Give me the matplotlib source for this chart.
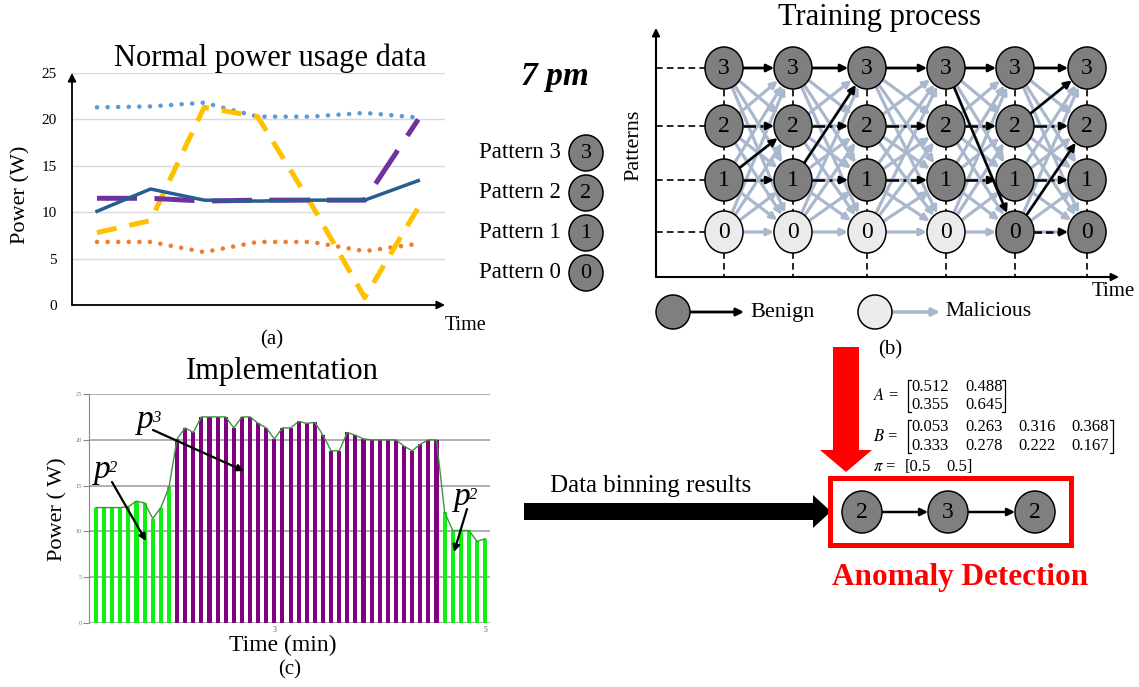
import numpy as np
import matplotlib.pyplot as plt
from matplotlib.patches import Ellipse, Polygon, Rectangle

plt.rcParams['font.family'] = ['Liberation Serif', 'DejaVu Serif']
plt.rcParams['mathtext.fontset'] = 'stix'

W, H = 1139, 687

# (a) normal power usage data, 7 time slots
slots_a = [0, 1, 2, 3, 4, 5, 6]
light_blue = [21.3, 21.4, 21.8, 20.3, 20.3, 20.7, 20.2]
orange = [6.8, 6.8, 5.7, 6.8, 6.8, 5.8, 6.6]
yellow = [7.8, 9.1, 21.3, 20.3, 10.9, 0.8, 10.5]
purple = [11.5, 11.5, 11.2, 11.3, 11.3, 11.3, 20.0]
dark_blue = [10.1, 12.5, 11.3, 11.2, 11.3, 11.3, 13.4]

# (c) implementation: power per sample and binned pattern
power_c = [12.6, 12.6, 12.6, 12.6, 12.7, 13.3, 13.1, 11.4, 12.6, 14.8,
           20.1, 21.3, 20.8, 22.5, 22.5, 22.5, 22.5, 21.3, 22.5, 22.5,
           21.8, 21.3, 20.1, 21.3, 21.3, 22.0, 21.8, 21.9, 20.5, 18.8,
           18.8, 20.8, 20.5, 20.1, 20.0, 20.0, 20.0, 20.0, 19.3, 18.8,
           19.5, 20.0, 20.0,
           12.1, 10.1, 10.1, 10.1, 8.9, 9.2]
pattern_c = [2] * 10 + [3] * 33 + [2] * 6
xtick_pos_c = [22, 48]
xtick_lab_c = ['3', '5']

# (b) training process
patterns = [3, 2, 1, 0]
n_steps = 6
light_nodes = [(0, 0), (1, 0), (2, 0), (3, 0)]
benign_paths = [((0, 3), (1, 3), '-'), ((1, 3), (2, 3), '-'), ((2, 3), (3, 3), '-'),
                ((3, 3), (4, 3), '-'), ((4, 3), (5, 3), '-'),
                ((0, 1), (1, 2), '-'), ((1, 1), (2, 3), '-'), ((3, 3), (4, 0), '-'),
                ((4, 2), (5, 3), '-'), ((4, 0), (5, 2), '-'), ((4, 0), (5, 0), '--')]
for c in range(5):
    for r in (2, 1):
        benign_paths.append(((c, r), (c + 1, r), '-.'))

detected = [2, 3, 2]
A = [['0.512', '0.488'], ['0.355', '0.645']]
B = [['0.053', '0.263', '0.316', '0.368'], ['0.333', '0.278', '0.222', '0.167']]
PI = ['0.5', '0.5']

DARK = '#7f7f7f'
LIGHT = '#ebebeb'
GRAY = '#a9b8cc'

fig = plt.figure(figsize=(W / 100, H / 100), dpi=100)


def box(l, t, r, b):
    return [l / W, 1 - b / H, (r - l) / W, (b - t) / H]


# ---------- (a) ----------
ax = fig.add_axes(box(72, 73, 445, 305))
ax.set_xlim(-0.467, 6.5)
ax.set_ylim(0, 25)
for s in ax.spines.values():
    s.set_visible(False)
ax.set_yticks([0, 5, 10, 15, 20, 25])
ax.set_xticks([])
ax.tick_params(axis='y', length=0, labelsize=11, pad=11)
ax.grid(axis='y', color='#d9d9d9', lw=1)
ax.set_axisbelow(True)
ax.plot(slots_a, orange, color='#ed7d31', lw=3.3, ls=(0, (0.01, 2.3)), dash_capstyle='round')
ax.plot(slots_a, light_blue, color='#5b9bd5', lw=3.3, ls=(0, (0.01, 2.3)), dash_capstyle='round')
ax.plot(slots_a, yellow, color='#ffc000', lw=3.6, dashes=(4, 2.6))
ax.plot(slots_a, purple, color='#7030a0', lw=3.6, dashes=(8, 3.5))
ax.plot(slots_a, dark_blue, color='#255e91', lw=2.5)
arr = dict(arrowstyle='-|>', color='black', lw=1.3, mutation_scale=12, shrinkA=0, shrinkB=0)
ax.annotate('', xy=(0, 1), xytext=(0, 0), xycoords='axes fraction', arrowprops=arr)
ax.annotate('', xy=(1, 0), xytext=(0, 0), xycoords='axes fraction', arrowprops=arr)

# ---------- (c) ----------
axc = fig.add_axes(box(89, 394, 490, 623))
xc = np.arange(len(power_c))
bar_cols = ['#11ee11' if p == 2 else '#800080' for p in pattern_c]
axc.bar(xc, power_c, width=0.5, color=bar_cols)
axc.plot(xc, power_c, color='#3c963c', lw=1)
axc.set_xlim(-0.86, 48.6)
axc.set_ylim(0, 25)
axc.set_yticks(range(0, 26, 5))
axc.grid(axis='y', color='#9a9a9a', lw=1.1)
axc.set_axisbelow(True)
for k, s in axc.spines.items():
    s.set_visible(k == 'left')
axc.spines['left'].set_color('#888888')
axc.tick_params(axis='y', length=4, color='#888888', labelsize=4.5, labelcolor='#777777', pad=1)
axc.set_xticks(xtick_pos_c)
axc.set_xticklabels(xtick_lab_c)
axc.tick_params(axis='x', length=0, labelsize=5.5, labelcolor='#555555', pad=2)

# ---------- overlay (texts and diagram) ----------
ov = fig.add_axes([0, 0, 1, 1])
ov.set_xlim(0, W)
ov.set_ylim(H, 0)
ov.axis('off')
ov.patch.set_alpha(0)


def node(x, y, label, fill, rx=19, ry=21, fs=17):
    ov.add_patch(Ellipse((x, y), 2 * rx, 2 * ry, fc=fill, ec='black', lw=1.1, zorder=5))
    ov.text(x, y + 1, str(label), ha='center', va='center', fontsize=fs, zorder=6)


def arrow(p0, p1, color='black', lw=1.8, ls='-', ms=12, z=3):
    if ls == '-':
        ov.annotate('', xy=p1, xytext=p0,
                    arrowprops=dict(arrowstyle='-|>', color=color, lw=lw, mutation_scale=ms,
                                    shrinkA=0, shrinkB=0), zorder=z)
    else:
        d = np.array(p1) - np.array(p0)
        u = d / np.hypot(*d)
        mid = np.array(p1) - u * 9
        styles = {'-.': (0, (5, 1.8, 1.2, 1.8)), '--': (0, (3, 1.6))}
        ov.plot([p0[0], mid[0]], [p0[1], mid[1]], color=color, lw=lw, ls=styles[ls], zorder=z)
        ov.annotate('', xy=p1, xytext=tuple(mid),
                    arrowprops=dict(arrowstyle='-|>', color=color, lw=lw, mutation_scale=ms,
                                    shrinkA=0, shrinkB=0), zorder=z)


def edge(c0, c1, rx=19, ry=21):
    d = np.array(c1, float) - np.array(c0, float)
    u = d / np.hypot(*d)
    k = 1 / np.sqrt((u[0] / rx) ** 2 + (u[1] / ry) ** 2)
    return tuple(np.array(c0) + u * k)


# titles and labels
ov.text(270, 58, 'Normal power usage data', ha='center', va='center', fontsize=22)
ov.text(21, 195, 'Power (W)', rotation=90, ha='center', va='center', fontsize=16)
ov.text(445, 325, 'Time', ha='left', va='center', fontsize=14.5)
ov.text(272, 340, '(a)', ha='center', va='center', fontsize=15)

ov.text(555, 76, '7 pm', ha='center', va='center', fontsize=24, weight='bold', style='italic')
for i, p in enumerate(patterns):
    y = 153 + 40 * i
    ov.text(561, y, f'Pattern {p}', ha='right', va='center', fontsize=16.5)
    node(586, y, p, DARK, rx=17, ry=18, fs=16)

ov.text(880, 18, 'Training process', ha='center', va='center', fontsize=22)
ov.text(634, 145, 'Patterns', rotation=90, ha='center', va='center', fontsize=16)
ov.text(1092, 292, 'Time', ha='left', va='center', fontsize=15)
ov.text(890, 350, '(b)', ha='center', va='center', fontsize=15)

# diagram axes
ax_x0, ax_y0 = 656, 277
arrow((ax_x0, ax_y0), (ax_x0, 28), lw=1.5, ms=11)
arrow((ax_x0, ax_y0), (1119, ax_y0), lw=1.5, ms=11)

cols_x = [724, 793, 867, 946, 1015, 1087]
rows_y = {3: 68, 2: 126, 1: 180, 0: 232}

for r in patterns:
    ov.plot([ax_x0, cols_x[0]], [rows_y[r], rows_y[r]], color='black', lw=1.2, ls=(0, (4, 2.5)), zorder=1)
for x in cols_x:
    ov.plot([x, x], [rows_y[3], ax_y0], color='black', lw=1.2, ls=(0, (4, 2.5)), zorder=1)

# malicious (all possible) transitions
for c in range(n_steps - 1):
    for r in patterns:
        for s in patterns:
            a = (cols_x[c], rows_y[r])
            b = (cols_x[c + 1], rows_y[s])
            arrow(edge(a, b), edge(b, a), color=GRAY, lw=2.3, ms=10, z=2)

# benign transitions
for (c0, r0), (c1, r1), ls in benign_paths:
    a = (cols_x[c0], rows_y[r0])
    b = (cols_x[c1], rows_y[r1])
    arrow(edge(a, b), edge(b, a), color='black', lw=1.8, ls=ls, ms=11, z=4)

for c in range(n_steps):
    for r in patterns:
        node(cols_x[c], rows_y[r], r, LIGHT if (c, r) in light_nodes else DARK)

# legend of (b)
node(673, 312, '', DARK, rx=17, ry=17)
arrow((690, 312), (744, 312), lw=2, ms=11)
ov.text(750, 312, 'Benign', ha='left', va='center', fontsize=16)
node(875, 312, '', LIGHT, rx=17, ry=17)
arrow((892, 312), (940, 312), color=GRAY, lw=2.5, ms=11)
ov.text(945, 312, 'Malicious', ha='left', va='center', fontsize=15.5)

# (c) labels
ov.text(282, 372, 'Implementation', ha='center', va='center', fontsize=22)
ov.text(58, 509, 'Power ( W)', rotation=90, ha='center', va='center', fontsize=16)
ov.text(283, 645, 'Time (min)', ha='center', va='center', fontsize=17)
ov.text(290, 670, '(c)', ha='center', va='center', fontsize=15)


def plabel(x, y, sub, tail, head):
    ov.text(x, y, 'p', ha='left', va='center', fontsize=24, style='italic')
    ov.text(x + 15, y - 2, sub, ha='left', va='center', fontsize=12, style='italic')
    arrow(tail, head, lw=1.6, ms=10, z=4)


plabel(94, 470, '2', (112, 482), (146, 541))
plabel(137, 420, '3', (153, 430), (244, 471))
plabel(454, 497, '2', (467, 509), (454, 552))

# flow arrows
ov.add_patch(Polygon([(833, 347), (859, 347), (859, 450), (872, 450), (846, 472),
                      (820, 450), (833, 450)], closed=True, fc='#ff0000', ec='none'))
ov.add_patch(Polygon([(524, 503), (813, 503), (813, 495), (831, 511.5), (813, 528),
                      (813, 520), (524, 520)], closed=True, fc='black', ec='none'))
ov.text(550, 486, 'Data binning results', ha='left', va='center', fontsize=18)

# HMM parameters
FS = 12


def matrix(label, y_lab, rows, ys, col_x, right_x):
    ov.text(873, y_lab, label, ha='left', va='center', fontsize=FS)
    for row, y in zip(rows, ys):
        for v, x in zip(row, col_x):
            ov.text(x, y, v, ha='left', va='center', fontsize=FS)
    top, bot = ys[0] - 7, ys[-1] + 7
    lx = col_x[0] - 3
    ov.plot([lx + 3, lx, lx, lx + 3], [top, top, bot, bot], color='black', lw=0.9)
    ov.plot([right_x - 3, right_x, right_x, right_x - 3], [top, top, bot, bot], color='black', lw=0.9)


matrix('$A$ =', 396, A, [387, 405], [911, 965], 1005)
matrix('$B$ =', 437, B, [427, 446], [911, 965, 1018, 1071], 1113)
ov.text(873, 467, r'$\pi$ =', ha='left', va='center', fontsize=FS)
ov.text(905, 467, '[' + PI[0], ha='left', va='center', fontsize=FS)
ov.text(946, 467, PI[1] + ']', ha='left', va='center', fontsize=FS)

# anomaly detection box
ov.add_patch(Rectangle((830, 478), 241, 67, fill=False, ec='#ff0000', lw=3.6))
det_x = [862, 948, 1035]
for x, p in zip(det_x, detected):
    node(x, 512, p, DARK, rx=20, ry=21)
for i in range(len(det_x) - 1):
    arrow((det_x[i] + 20, 512), (det_x[i + 1] - 20, 512), lw=1.8, ms=11)
ov.text(960, 578, 'Anomaly Detection', ha='center', va='center', fontsize=22.5,
        weight='bold', color='#ff0000')

fig.savefig('out.png', dpi=100)
